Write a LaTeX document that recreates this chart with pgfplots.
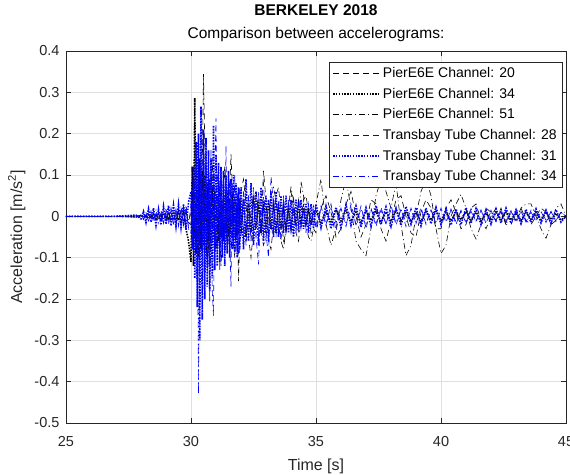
\documentclass[border=0pt]{standalone}
\usepackage{fontspec}
\setmainfont{Liberation Sans}
\usepackage{pgfplots}
\usepackage{pgfplotstable}
\pgfplotsset{compat=1.18}
\definecolor{axcol}{rgb}{0.15,0.15,0.15}
\definecolor{gridcol}{rgb}{0.875,0.875,0.875}
\definecolor{mblue}{rgb}{0,0,1}

% t = time [s]; a = PierE6E Ch20, b = PierE6E Ch34, c = PierE6E Ch51,
% d = Transbay Tube Ch28, e = Transbay Tube Ch31, f = Transbay Tube Ch34
\pgfplotstableread{
t a b c d e f
25.0 0 0 0 0 0 0
26.0 0 0 0 0 0 0
27.0 0 0 0 0 0 0
27.8 0.001 -0.001 0.001 -0.002 0.003 -0.002
28.0 0.002 -0.001 0.001 0.004 -0.006 0.003
28.1 -0.003 0.002 -0.002 -0.008 0.012 -0.007
28.2 0.004 -0.003 0.002 0.010 -0.015 0.009
28.3 -0.004 0.004 -0.003 -0.012 0.018 -0.011
28.4 0.005 -0.004 0.003 0.009 -0.014 0.013
28.5 -0.006 0.005 -0.004 -0.014 0.020 -0.010
28.6 0.005 -0.006 0.004 0.013 -0.022 0.015
28.7 -0.007 0.006 -0.005 -0.010 0.017 -0.016
28.8 0.006 -0.007 0.004 0.015 -0.021 0.012
28.9 -0.008 0.008 -0.006 -0.017 0.024 -0.018
29.0 0.009 -0.007 0.005 0.014 -0.019 0.020
29.1 -0.007 0.009 -0.006 -0.019 0.026 -0.015
29.2 0.010 -0.010 0.007 0.016 -0.023 0.021
29.3 -0.009 0.011 -0.007 -0.020 0.027 -0.022
29.4 0.011 -0.012 0.008 0.018 -0.025 0.019
29.5 -0.010 0.013 -0.008 -0.021 0.029 -0.024
29.6 0.012 -0.015 0.009 0.022 -0.027 0.025
29.7 -0.013 0.017 -0.010 -0.024 0.030 -0.022
29.8 0.014 -0.030 0.011 0.025 -0.032 0.027
29.9 -0.015 -0.060 -0.012 -0.027 0.034 -0.030
30.00 -0.02 -0.11 0.01 0.03 0.06 -0.04
30.05 0.04 0.12 0.03 -0.05 -0.08 0.06
30.10 0.07 -0.12 -0.02 0.08 0.12 -0.09
30.15 -0.03 0.286 -0.05 -0.07 -0.15 0.11
30.20 -0.08 -0.09 0.02 0.10 0.18 -0.14
30.25 0.02 0.18 0.06 -0.12 -0.22 0.08
30.30 0.10 -0.10 0.03 0.09 0.20 -0.43
30.35 0.05 0.14 -0.04 -0.14 -0.30 0.05
30.40 -0.06 -0.08 -0.07 0.13 0.266 0.13
30.45 0.12 0.11 -0.01 -0.10 -0.25 -0.12
30.50 0.344 -0.07 0.05 0.15 0.21 0.10
30.55 0.18 0.10 0.08 -0.13 -0.20 -0.11
30.60 -0.05 -0.09 0.02 0.12 0.19 0.14
30.65 -0.12 0.08 -0.05 -0.16 -0.17 -0.09
30.70 -0.02 -0.06 -0.09 0.14 0.16 0.08
30.75 -0.206 0.09 -0.03 -0.11 -0.18 -0.12
30.80 0.06 -0.08 0.04 0.16 0.14 0.09
30.85 0.14 0.07 0.07 -0.18 -0.15 -0.07
30.90 0.02 -0.05 0.03 -0.24 0.22 0.10
30.95 -0.10 0.06 -0.04 0.10 -0.13 -0.11
31.00 -0.04 -0.07 -0.08 0.237 0.15 0.08
31.05 0.09 0.05 -0.05 -0.08 -0.12 -0.09
31.10 0.11 -0.06 0.02 0.12 0.13 0.07
31.15 -0.03 0.07 0.07 -0.13 -0.11 -0.08
31.20 -0.12 -0.05 0.09 0.10 0.12 0.09
31.25 -0.06 0.04 0.03 -0.09 -0.10 -0.07
31.30 0.08 -0.06 -0.04 0.11 0.11 0.06
31.35 0.12 0.05 -0.08 -0.07 -0.12 -0.08
31.40 0.01 -0.04 -0.06 0.17 0.10 0.07
31.45 -0.09 0.06 0.01 -0.08 -0.09 -0.06
31.50 -0.05 -0.05 0.06 0.09 0.11 0.08
31.55 0.06 0.04 0.08 -0.06 -0.10 -0.07
31.60 0.15 -0.04 0.04 -0.17 0.09 0.05
31.65 0.07 0.05 -0.03 0.08 -0.08 -0.06
31.70 -0.06 -0.03 -0.07 -0.07 0.10 0.07
31.75 -0.10 0.04 -0.09 0.10 -0.09 -0.05
31.80 -0.02 -0.05 -0.04 -0.08 0.08 0.06
31.85 0.05 0.03 0.03 0.06 -0.10 -0.07
31.90 -0.157 -0.04 0.07 -0.09 0.07 0.05
31.95 -0.04 0.03 0.05 0.07 -0.08 -0.06
32.0 0.06 -0.04 0.02 -0.05 0.07 -0.05
32.1 0.09 0.04 -0.03 0.06 -0.08 0.06
32.2 0.03 -0.05 -0.06 -0.07 0.09 -0.04
32.3 -0.05 0.03 -0.04 0.05 -0.06 0.05
32.4 -0.10 -0.04 0.01 -0.06 0.08 -0.06
32.5 -0.03 0.05 0.05 0.07 -0.07 0.04
32.6 0.05 -0.03 0.06 -0.05 0.06 -0.05
32.7 0.02 0.04 0.02 -0.116 -0.07 0.06
32.8 -0.04 -0.04 -0.04 0.04 0.07 -0.04
32.9 0.11 0.03 -0.07 0.08 -0.06 0.05
33.0 0.04 -0.03 -0.05 -0.04 0.05 -0.06
33.1 -0.06 0.04 0.00 -0.10 -0.06 0.04
33.2 -0.08 -0.03 0.05 0.097 0.06 -0.04
33.3 -0.02 0.03 0.07 0.03 -0.05 0.05
33.4 0.05 -0.04 0.04 -0.05 0.06 -0.04
33.5 0.07 0.03 -0.02 0.04 -0.05 0.03
33.6 0.01 -0.03 -0.06 -0.06 0.05 -0.05
33.7 -0.06 0.02 -0.08 0.05 -0.04 0.04
33.8 -0.04 -0.03 -0.03 -0.04 0.05 -0.03
33.9 0.03 0.02 0.03 0.03 -0.04 0.04
34.0 0.06 -0.03 0.07 -0.04 0.04 -0.03
34.1 0.02 0.02 0.04 0.05 -0.05 0.03
34.2 -0.04 -0.02 -0.02 -0.03 0.04 -0.04
34.3 -0.06 0.03 -0.04 0.04 -0.03 0.03
34.4 -0.01 -0.02 0.085 -0.03 0.04 -0.03
34.5 0.04 0.02 0.05 0.03 -0.03 0.02
34.6 0.05 -0.02 -0.02 -0.04 0.03 -0.03
34.7 0.01 0.02 -0.05 0.03 -0.04 0.03
34.8 -0.04 -0.02 -0.06 -0.03 0.03 -0.02
34.9 -0.03 0.01 -0.03 0.02 -0.03 0.03
35.0 -0.04 0.012 0.03 -0.030 0.030 -0.020
35.2 0.02 -0.015 0.09 0.025 -0.028 0.018
35.4 0.05 0.010 -0.02 -0.020 0.025 -0.022
35.6 0.01 -0.013 -0.07 0.030 -0.030 0.020
35.8 -0.05 0.016 -0.03 -0.035 0.022 -0.016
36.0 -0.03 -0.011 0.04 0.020 -0.027 0.021
36.2 0.03 0.014 0.09 -0.025 0.028 -0.019
36.4 0.06 -0.012 0.02 0.030 -0.022 0.017
36.6 0.00 0.010 -0.06 -0.020 0.025 -0.020
36.8 -0.05 -0.015 -0.08 0.025 -0.026 0.018
37.0 -0.02 0.013 -0.095 -0.030 0.021 -0.016
37.2 0.04 -0.010 -0.03 0.020 -0.024 0.019
37.4 0.03 0.012 0.05 -0.025 0.026 -0.017
37.6 -0.03 -0.014 0.09 0.022 -0.020 0.015
37.8 -0.06 0.011 0.06 -0.020 0.023 -0.018
38.0 -0.01 -0.012 0.02 0.028 -0.025 0.016
38.2 0.04 0.015 0.08 -0.022 0.020 -0.015
38.4 0.05 -0.010 -0.02 0.018 -0.022 0.017
38.6 0.00 0.012 -0.095 -0.025 0.024 -0.014
38.8 -0.04 -0.013 -0.07 0.020 -0.019 0.016
39.0 -0.05 0.010 0.00 -0.018 0.021 -0.015
39.2 0.01 -0.012 0.06 0.022 -0.023 0.013
39.4 0.04 0.011 0.09 -0.020 0.020 -0.016
39.6 0.02 -0.009 0.05 0.016 -0.018 0.014
39.8 -0.03 0.012 -0.03 -0.018 0.022 -0.013
40.0 -0.03 -0.010 -0.09 0.020 -0.020 0.015
40.2 0.02 0.009 -0.07 -0.015 0.019 -0.012
40.4 0.04 -0.011 0.00 0.018 -0.021 0.014
40.6 0.01 0.010 0.03 -0.020 0.018 -0.013
40.8 -0.03 -0.008 0.053 0.015 -0.020 0.012
41.0 -0.02 0.011 0.02 -0.017 0.021 -0.014
41.2 0.02 -0.009 -0.03 0.019 -0.017 0.012
41.4 0.03 0.010 -0.055 -0.014 0.019 -0.011
41.6 -0.01 -0.011 -0.02 0.016 -0.020 0.013
41.8 -0.03 0.008 0.02 -0.018 0.016 -0.012
42.0 0.00 -0.010 0.01 0.015 -0.019 0.011
42.2 0.02 0.009 -0.01 -0.013 0.018 -0.013
42.4 0.01 -0.008 0.02 0.017 -0.016 0.012
42.6 -0.02 0.010 -0.02 -0.015 0.020 -0.011
42.8 -0.02 -0.009 0.01 0.014 -0.017 0.012
43.0 0.01 0.008 -0.01 -0.016 0.016 -0.010
43.2 0.02 -0.010 0.02 0.012 -0.018 0.011
43.4 -0.01 0.009 0.03 -0.014 0.017 -0.012
43.6 -0.02 -0.007 0.03 0.015 -0.015 0.010
43.8 0.00 0.009 0.00 -0.012 0.018 -0.011
44.0 0.02 -0.008 -0.03 0.013 -0.016 0.010
44.2 0.01 0.010 -0.053 -0.015 0.015 -0.009
44.4 -0.02 -0.008 -0.02 0.012 -0.017 0.011
44.6 -0.01 0.007 0.02 -0.013 0.016 -0.010
44.8 0.01 -0.009 0.03 0.011 -0.014 0.009
45.0 0.00 0.000 0.00 0.000 0.000 0.000
}\acc

\begin{document}
\begin{tikzpicture}
\begin{axis}[
  name=ax,
  width=500pt, height=372pt, scale only axis,
  xmin=25, xmax=45, ymin=-0.5, ymax=0.4,
  xtick={25,30,35,40,45},
  xticklabels={25,30,35,40,45},
  ytick={-0.5,-0.4,-0.3,-0.2,-0.1,0,0.1,0.2,0.3,0.4},
  yticklabels={-0.5,-0.4,-0.3,-0.2,-0.1,0,0.1,0.2,0.3,0.4},
  tick align=inside,
  major tick length=5pt,
  minor tick num=0,
  tick style={draw=axcol, line width=0.5pt},
  axis line style={draw=axcol, line width=0.6pt},
  grid=major,
  major grid style={draw=gridcol, line width=0.5pt},
  ticklabel style={font=\fontsize{14.5}{17}\selectfont, text=axcol},
  xticklabel style={yshift=-10pt},
  yticklabel style={xshift=-3pt},
  xlabel={Time [s]},
  ylabel={Acceleration [m/s\textsuperscript{2}]},
  label style={font=\fontsize{16}{19}\selectfont, text=axcol},
  xlabel style={at={(axis description cs:0.5,-0.088)}, anchor=north},
  ylabel style={at={(axis description cs:-0.074,0.5)}, anchor=south},
  title={\textbf{BERKELEY 2018}\\Comparison between accelerograms:},
  title style={font=\fontsize{15.5}{23}\selectfont, align=center, text=black, yshift=0pt},
  legend style={at={(0.992,0.970)}, anchor=north east, draw=axcol, line width=0.5pt,
    fill=white, font=\fontsize{14}{16}\selectfont, cells={anchor=west},
    row sep=5pt, inner xsep=3pt, inner ysep=3pt},
  legend image code/.code={\draw[#1] (0pt,0pt) -- (47pt,0pt);},
]
\addplot[black, line width=0.6pt, dash pattern=on 6pt off 4pt] table[x=t,y=a]{\acc};
\addlegendentry{PierE6E Channel: 20}
\addplot[black, line width=1.6pt, dash pattern=on 1.5pt off 1.3pt] table[x=t,y=b]{\acc};
\addlegendentry{PierE6E Channel: 34}
\addplot[black, line width=0.6pt, dash pattern=on 6pt off 3pt on 1pt off 3pt] table[x=t,y=c]{\acc};
\addlegendentry{PierE6E Channel: 51}
\addplot[mblue, line width=0.6pt, dash pattern=on 6pt off 4pt] table[x=t,y=d]{\acc};
\addlegendentry{Transbay Tube Channel: 28}
\addplot[mblue, line width=1.6pt, dash pattern=on 1.5pt off 1.3pt] table[x=t,y=e]{\acc};
\addlegendentry{Transbay Tube Channel: 31}
\addplot[mblue, line width=0.6pt, dash pattern=on 6pt off 3pt on 1pt off 3pt] table[x=t,y=f]{\acc};
\addlegendentry{Transbay Tube Channel: 34}
\end{axis}
\pgfresetboundingbox
\path ([shift={(-66pt,-51pt)}]ax.south west) rectangle ([shift={(4pt,51pt)}]ax.north east);
\end{tikzpicture}
\end{document}
